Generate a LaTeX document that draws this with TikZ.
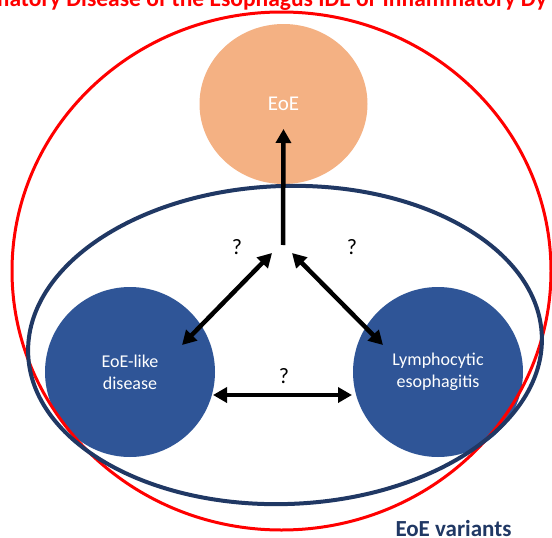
\documentclass[tikz,border=0pt]{standalone}
\usepackage{fontspec}
\setmainfont{Carlito}
\usetikzlibrary{arrows.meta,calc,shapes.geometric}
\definecolor{redline}{HTML}{FF0000}
\definecolor{navyline}{HTML}{203864}
\definecolor{bluefill}{HTML}{2F5597}
\definecolor{orangefill}{HTML}{F4B183}
\tikzset{
  bigcirc/.style={circle, draw=none, fill=bluefill, minimum size=170pt, inner sep=0pt,
    text=white, align=center, font=\fontsize{18}{22}\selectfont},
  topcirc/.style={ellipse, draw=none, fill=orangefill, minimum width=168pt, minimum height=160pt,
    inner sep=0pt, text=white, font=\fontsize{21}{25}\selectfont},
  arr/.style={line width=4.5pt, -{Triangle[length=14pt,width=15pt]}},
  dblarr/.style={line width=4.5pt, {Triangle[length=14pt,width=15pt]}-{Triangle[length=14pt,width=15pt]}},
  qmark/.style={font=\fontsize{22}{26}\selectfont, inner sep=0pt},
  titletext/.style={text=redline, font=\bfseries\fontsize{23.5}{28}\selectfont, inner sep=0pt, anchor=base},
  grouplabel/.style={text=navyline, font=\bfseries\fontsize{23}{28}\selectfont, inner sep=0pt, anchor=base}
}
\begin{document}
\begin{tikzpicture}[x=1pt,y=-1pt]
\useasboundingbox (0,0) rectangle (552,538);
\fill[white] (0,0) rectangle (552,538);
\clip (0,0) rectangle (552,538);

% title (cut off by the top edge, as in the source)
\node[titletext] (title) at (291,6) {\llap{Inflammatory\ }Disease of the Esophagus IDE or Inflammatory\rlap{\ Dy}};

% circles
\node[topcirc] (eoe) at (283.5,104) {EoE};
\node[bigcirc] (lft) at (130,372) {EoE-like\\disease};
\node[bigcirc] (rgt) at (438,372) {Lymphocytic\\esophagitis};

% enclosing ellipses
\draw[redline, line width=3pt] (281.5,271) ellipse [x radius=269.5pt, y radius=259pt];
\draw[navyline, line width=4pt] (285,345) ellipse [x radius=257pt, y radius=159pt, rotate=2];

% hub coordinates
\coordinate (hub) at (283,245);
\coordinate (hubL) at (272,253);
\coordinate (hubR) at (292,253);

% connectors
\draw[arr] (hub) -- ($(eoe.center)+(0,25)$);
\draw[dblarr] (hubL) -- ($(lft.center)+(52,-27)$);
\draw[dblarr] (hubR) -- ($(rgt.center)+(-55,-27)$);
\draw[dblarr] ($(lft.center)+(83,23)$) -- ($(rgt.center)+(-86,23)$);

% question marks
\node[qmark] (q1) at (237,247) {?};
\node[qmark] (q2) at (352,247) {?};
\node[qmark] (q3) at (284,376) {?};

% group label
\node[grouplabel] (variants) at (453.5,536) {EoE variants};
\end{tikzpicture}
\end{document}
